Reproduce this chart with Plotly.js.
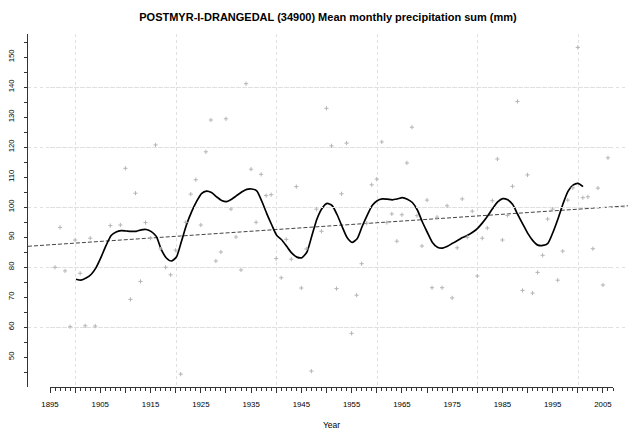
<!DOCTYPE html>
<html>
<head>
<meta charset="utf-8">
<script src="https://cdn.plot.ly/plotly-3.0.1.min.js"></script>
<style>html,body{margin:0;padding:0;background:#fff;}#chart{width:628px;height:432px;}</style>
</head>
<body>
<div id="chart"></div>
<script>
// Annual values (mm)
const years = [1896,1897,1898,1899,1900,1901,1902,1903,1904,1907,1909,1910,1911,1912,1913,1914,1915,1916,1917,1918,1919,1920,
  1921,1922,1923,1924,1925,1926,1927,1928,1929,1930,1931,1932,1933,1934,1935,1936,1937,1938,1939,1940,
  1941,1942,1943,1944,1945,1946,1947,1948,1949,1950,1951,1952,1953,1954,1955,1956,1957,1958,1959,1960,
  1961,1962,1963,1964,1965,1966,1967,1968,1969,1970,1971,1972,1973,1974,1975,1976,1977,1978,1979,1980,
  1981,1982,1983,1984,1985,1986,1987,1988,1989,1990,1991,1992,1993,1994,1995,1996,1997,1998,1999,2000,
  2001,2002,2003,2004,2005,2006];
const values = [79.9,93.2,78.7,60.1,89.0,77.9,60.4,89.6,60.3,93.8,94.0,112.9,69.2,104.6,75.2,94.8,89.6,120.7,86.0,79.9,77.4,85.6,
  44.3,94.9,104.3,109.1,94.0,118.4,129.0,82.0,85.0,129.4,99.3,90.0,79.0,141.1,112.6,94.9,110.9,103.8,104.1,82.8,
  76.4,89.2,82.6,106.8,73.0,86.0,45.3,99.3,91.9,132.9,120.4,72.8,104.4,121.3,57.9,70.6,81.1,94.6,107.4,109.3,
  121.7,94.8,97.7,88.6,97.4,114.7,126.6,97.1,87.0,102.3,73.1,96.6,73.1,100.4,69.7,86.4,102.7,89.9,98.6,77.0,
  89.6,93.0,102.1,116.0,89.0,97.2,106.9,135.2,72.2,110.7,71.3,78.2,83.9,96.0,99.3,75.6,85.3,102.3,106.4,153.2,
  103.1,103.4,86.1,106.3,74.0,116.4];

// Smoothed curve
const smoothYears = [1900,1901,1902,1903,1904,1905,1906,1907,1908,1909,1910,1911,1912,1913,1914,1915,1916,1917,1918,1919,1920,
  1921,1922,1923,1924,1925,1926,1927,1928,1929,1930,1931,1932,1933,1934,1935,1936,1937,1938,1939,1940,
  1941,1942,1943,1944,1945,1946,1947,1948,1949,1950,1951,1952,1953,1954,1955,1956,1957,1958,1959,1960,
  1961,1962,1963,1964,1965,1966,1967,1968,1969,1970,1971,1972,1973,1974,1975,1976,1977,1978,1979,1980,
  1981,1982,1983,1984,1985,1986,1987,1988,1989,1990,1991,1992,1993,1994,1995,1996,1997,1998,1999,2000,2001];
const smoothValues = [75.9,75.6,76.3,77.5,79.8,83.3,87.2,90.5,91.7,92.1,92.0,91.9,91.9,92.4,92.5,91.8,90.2,85.8,83.0,82.0,83.3,
  88.5,94.0,98.3,101.8,104.5,105.3,104.8,103.4,102.2,101.8,102.6,103.8,105.0,105.9,106.0,105.4,102.0,97.8,94.0,90.5,
  89.0,86.8,84.6,83.3,83.1,85.0,90.5,96.0,99.5,101.2,100.5,97.5,93.5,89.8,88.2,89.4,93.5,97.2,100.5,102.1,
  102.7,102.6,102.4,102.7,103.1,102.6,101.5,99.0,95.0,91.5,88.2,86.6,86.3,86.9,87.9,88.8,89.8,90.6,91.6,92.9,
  94.8,97.0,99.5,101.7,102.8,102.4,100.8,97.5,94.3,91.2,88.8,87.3,87.2,87.9,91.5,96.0,101.0,105.2,107.3,107.9,106.8];

// Linear trend end points
const trendYears = [1890.44, 2009.96];
const trendValues = [86.9, 100.4];

// Axis labels
const labelYears = [1895,1905,1915,1925,1935,1945,1955,1965,1975,1985,1995,2005];
const majorXTicks = [];
for (let y = 1895; y <= 2005; y += 5) majorXTicks.push(y);
const xTickText = majorXTicks.map(y => labelYears.includes(y) ? String(y) : '');
const gridYears = [1900,1920,1940,1960,1980,2000];
const yTicks = [];
for (let v = 45; v <= 155; v += 5) yTicks.push(v);
const yTickText = yTicks.map(v => v % 10 === 0 ? String(v) : '');
const gridValues = [60,80,100,120,140];

const FONT = 'Liberation Sans, Arial, sans-serif';
const AX = '#333';

const traces = [
  {x: trendYears, y: trendValues, type: 'scatter', mode: 'lines', xaxis: 'x', yaxis: 'y',
   line: {color: '#444', width: 1, dash: '4px,2px'}, hoverinfo: 'skip'},
  // points drawn on the labelled year axis (same scale as the main axis)
  {x: years, y: values, type: 'scatter', mode: 'markers', xaxis: 'x2', yaxis: 'y',
   marker: {symbol: 'cross-thin', size: 3, color: '#b4b4b4', line: {width: 1, color: '#b4b4b4'}}, cliponaxis: false},
  // smooth curve drawn on the labelled value axis (same scale as the main axis)
  {x: smoothYears, y: smoothValues, type: 'scatter', mode: 'lines', xaxis: 'x', yaxis: 'y2',
   line: {color: '#000', width: 1.7, shape: 'spline', smoothing: 0.6}}
];

const layout = {
  width: 628, height: 432,
  margin: {l: 28, r: 0, t: 34, b: 45, pad: 0},
  paper_bgcolor: '#fff', plot_bgcolor: 'rgba(0,0,0,0)',
  showlegend: false,
  font: {family: FONT, color: '#000'},
  title: {text: 'POSTMYR-I-DRANGEDAL (34900) Mean monthly precipitation sum (mm)',
          font: {family: FONT, size: 11, color: '#000', weight: 'bold'},
          x: 0.5, xref: 'paper', xanchor: 'center', y: 1 - 17/432, yref: 'container', yanchor: 'middle'},
  xaxis: {range: [1890.44, 2009.96], tickmode: 'array', tickvals: gridYears, showticklabels: false, ticks: '',
          showgrid: true, gridcolor: '#e0e0e0', griddash: 'dot', gridwidth: 1, zeroline: false, showline: false},
  yaxis: {range: [40, 157.67], tickmode: 'array', tickvals: gridValues, showticklabels: false, ticks: '',
          showgrid: true, gridcolor: '#e0e0e0', griddash: 'dot', gridwidth: 1, zeroline: false, showline: false},
  xaxis2: {domain: [22/600, 585/600], range: [1895, 2007], anchor: 'y', side: 'bottom',
           tickmode: 'array', tickvals: majorXTicks, ticktext: xTickText,
           ticks: 'outside', ticklen: 5, tickwidth: 1, tickcolor: AX,
           minor: {tickmode: 'linear', tick0: 1895, dtick: 1, ticks: 'outside', ticklen: 2.5, tickcolor: AX, tickwidth: 1, showgrid: false},
           showline: true, linecolor: AX, linewidth: 1, showgrid: false, zeroline: false,
           tickfont: {family: FONT, size: 7.8, color: '#000'}, ticklabelstandoff: 5,
           title: {text: 'Year', font: {family: FONT, size: 8.5, color: '#000'}, standoff: 13}},
  yaxis2: {overlaying: 'y', anchor: 'x', side: 'left', range: [40, 157.67],
           tickmode: 'array', tickvals: yTicks, ticktext: yTickText, tickangle: -90,
           ticks: 'outside', ticklen: 3, tickwidth: 1, tickcolor: AX,
           showline: true, linecolor: AX, linewidth: 1, showgrid: false, zeroline: false,
           tickfont: {family: FONT, size: 7.8, color: '#000'}, ticklabelstandoff: 7}
};

Plotly.newPlot('chart', traces, layout, {staticPlot: true, displayModeBar: false});
</script>
</body>
</html>
